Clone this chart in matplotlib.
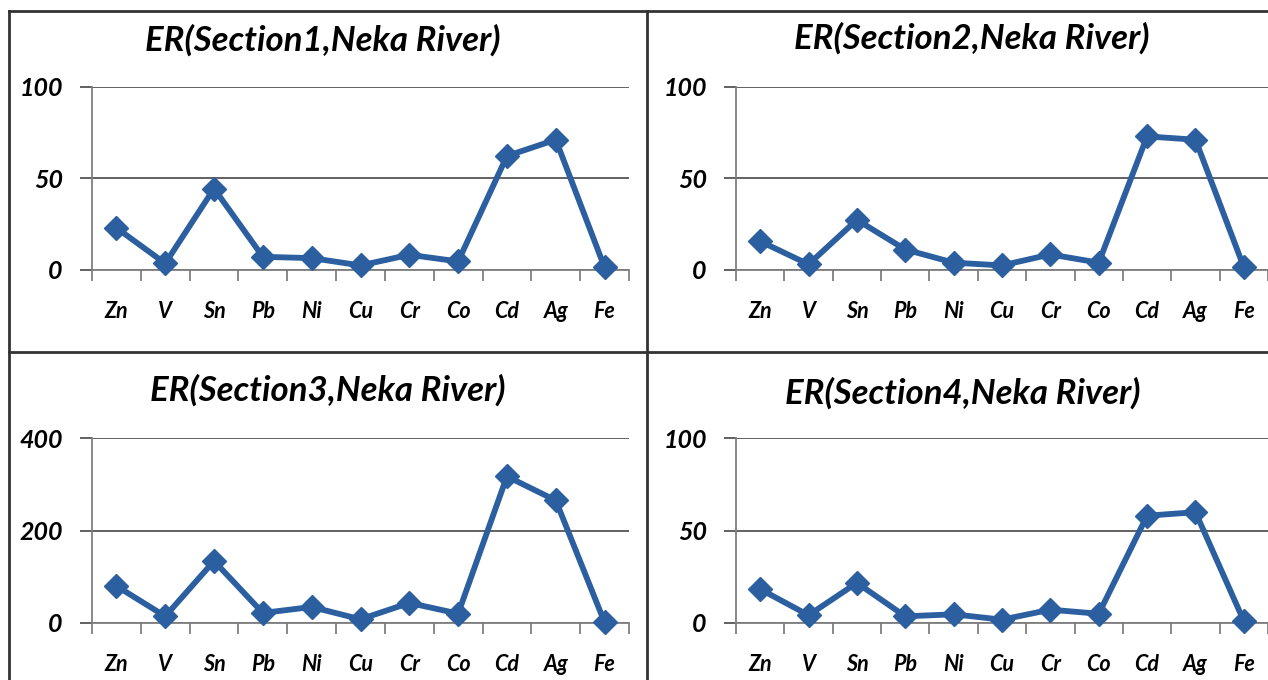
import numpy as np
import matplotlib.pyplot as plt
from matplotlib.lines import Line2D

# ER values for each metal
metals = ['Zn', 'V', 'Sn', 'Pb', 'Ni', 'Cu', 'Cr', 'Co', 'Cd', 'Ag', 'Fe']
section1 = [23, 3.6, 44.5, 7.2, 6.5, 2.5, 8.3, 4.7, 62.3, 71.2, 1.4]
section2 = [15.7, 3.1, 27.4, 11.2, 4.0, 2.5, 8.5, 4.0, 73.0, 71.2, 1.6]
section3 = [80, 14.5, 134, 21.7, 34.7, 8, 43.4, 20.3, 317, 265, 1.4]
section4 = [18.3, 4.2, 21.7, 3.6, 4.7, 1.8, 7.2, 5.0, 58.0, 59.9, 1.1]
titles = ['ER(Section1,Neka River)', 'ER(Section2,Neka River)',
          'ER(Section3,Neka River)', 'ER(Section4,Neka River)']
yticks = [[0, 50, 100], [0, 50, 100], [0, 200, 400], [0, 50, 100]]

W, H = 1268, 680
blue = '#2C5FA0'
grey = '#7F7F7F'
font = 'Lato'

fig = plt.figure(figsize=(W / 100, H / 100), dpi=100)


def px_axes(left, right, top, bottom):
    return fig.add_axes([left / W, 1 - bottom / H, (right - left) / W, (bottom - top) / H])


boxes = [(92, 629, 87, 270), (736, 1268, 87, 270),
         (92, 629, 438, 623), (736, 1268, 438, 623)]
title_pos = [(323, 40), (972, 38), (328, 390), (963, 393)]
series = [section1, section2, section3, section4]

for i in range(4):
    ax = px_axes(*boxes[i])
    x = np.arange(len(metals))
    ax.plot(x, series[i], color=blue, lw=4.2, marker='D', ms=12,
            mfc=blue, mec=blue, clip_on=False, zorder=5)
    ax.set_xlim(-0.5, len(metals) - 0.5)
    ax.set_ylim(yticks[i][0], yticks[i][-1])
    ax.set_yticks(yticks[i])
    ax.set_yticklabels([str(t) for t in yticks[i]], fontfamily=font,
                       fontweight='bold', fontstyle='italic', fontsize=18)
    ax.set_xticks(np.arange(-0.5, len(metals), 1))
    ax.set_xticklabels([])
    ax.set_xticks(x, minor=True)
    ax.set_xticklabels(metals, minor=True, fontfamily=font,
                       fontweight='bold', fontstyle='italic', fontsize=15.5)
    ax.tick_params(axis='x', which='major', length=8, width=1.3, color=grey, direction='out')
    ax.tick_params(axis='x', which='minor', length=0, pad=22)
    ax.tick_params(axis='y', length=9, width=1.3, color='#555555', pad=12)
    ax.grid(axis='y', color='#555555', lw=1.3)
    ax.set_axisbelow(True)
    for s in ['top', 'right']:
        ax.spines[s].set_visible(False)
    ax.spines['left'].set_color(grey)
    ax.spines['left'].set_linewidth(1.3)
    ax.spines['bottom'].set_color(grey)
    ax.spines['bottom'].set_linewidth(1.3)
    tx, ty = title_pos[i]
    fig.text(tx / W, 1 - ty / H, titles[i], ha='center', va='center',
             fontfamily=font, fontweight='bold', fontstyle='italic', fontsize=25)

# panel frame lines
frame = [((9, 9), (11, 680)), ((9, 1268), (11, 11)),
         ((647, 647), (11, 680)), ((9, 1268), (352, 352))]
for xs, ys in frame:
    fig.add_artist(Line2D([v / W for v in xs], [1 - v / H for v in ys],
                          color='#333333', lw=2))

fig.savefig('out.png', dpi=100)
